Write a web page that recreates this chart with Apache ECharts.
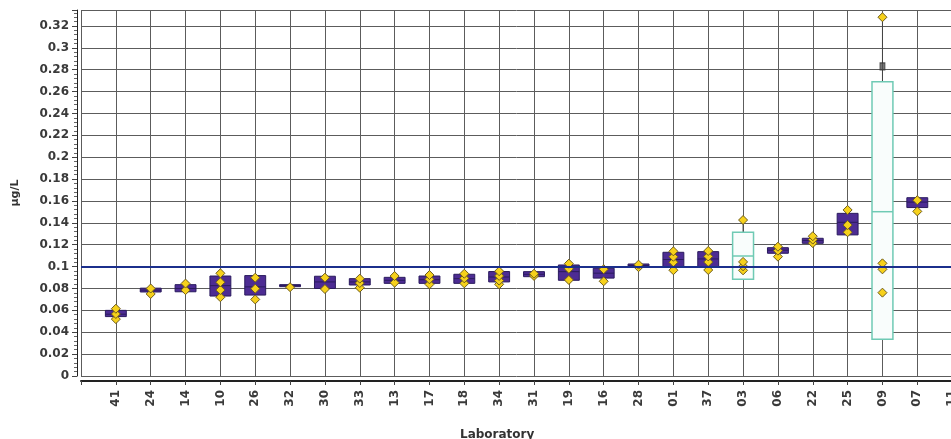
<!DOCTYPE html>
<html>
<head>
<meta charset="utf-8">
<script src="https://cdn.jsdelivr.net/npm/echarts@6/dist/echarts.min.js"></script>
<style>
  html, body { margin: 0; padding: 0; background: #fff; }
  #chart { width: 951px; height: 439px; }
</style>
</head>
<body>
<div id="chart"></div>
<script>
// laboratory codes in plotting order (x = 1..25)
const labs = ['41', '24', '14', '10', '26', '32', '30', '33', '13', '17', '18', '34', '31',
  '19', '16', '28', '01', '37', '03', '06', '22', '25', '09', '07', '11']

// boxes: lower quartile / median / upper quartile
const boxLow = [0.0543, 0.0768, 0.0770, 0.0731, 0.0740, 0.0822, 0.0800, 0.0832, 0.0847, 0.0847, 0.0847, 0.0860, 0.0908,
  0.0875, 0.0895, 0.0994, 0.0998, 0.1000, 0.0884, 0.1122, 0.1213, 0.1290, 0.0335, 0.1540, null]
const boxMid = [0.0565, 0.0785, 0.0800, 0.0826, 0.0815, 0.0828, 0.0860, 0.0860, 0.0875, 0.0880, 0.0890, 0.0905, 0.0930,
  0.0954, 0.0940, 0.1010, 0.1065, 0.1070, 0.1097, 0.1150, 0.1238, 0.1405, 0.1502, 0.1590, null]
const boxHigh = [0.0600, 0.0803, 0.0835, 0.0914, 0.0918, 0.0835, 0.0912, 0.0890, 0.0902, 0.0914, 0.0930, 0.0955, 0.0954,
  0.1015, 0.0985, 0.1024, 0.1131, 0.1137, 0.1314, 0.1173, 0.1259, 0.1487, 0.2691, 0.1630, null]
// 0 = filled box, 1 = open box
const boxKind = [0, 0, 0, 0, 0, 0, 0, 0, 0, 0, 0, 0, 0, 0, 0, 0, 0, 0, 1, 0, 0, 0, 1, 0, 0]
// upper whisker end (open boxes only)
const whiskerHigh = [null, null, null, null, null, null, null, null, null, null, null, null, null,
  null, null, null, null, null, 0.1426, null, null, null, 0.328, null, null]

// individual results of each laboratory
const results = [
  [0.0520, 0.0567, 0.0615],
  [0.0750, 0.0800],
  [0.0785, 0.0845],
  [0.0720, 0.0786, 0.0857, 0.0939],
  [0.0700, 0.0798, 0.0899],
  [0.0812],
  [0.0795, 0.0899],
  [0.0807, 0.0850, 0.0890],
  [0.0853, 0.0914],
  [0.0838, 0.0884, 0.0923],
  [0.0847, 0.0893, 0.0935],
  [0.0838, 0.0872, 0.0915, 0.0958],
  [0.0915, 0.0935],
  [0.0878, 0.0980, 0.1027],
  [0.0866, 0.0976],
  [0.0995, 0.1018],
  [0.0967, 0.1040, 0.1090, 0.1140],
  [0.0969, 0.1042, 0.1093, 0.1143],
  [0.0966, 0.1003, 0.1043, 0.1426],
  [0.1091, 0.1146, 0.1182],
  [0.1215, 0.1247, 0.1278],
  [0.1314, 0.1380, 0.1518],
  [0.0762, 0.0975, 0.1030, 0.3280],
  [0.1505, 0.1607],
  []
]
// flagged value drawn as a dark mark on lab 09's whisker
const flagged = [['09', 0.283]]

const assignedValue = 0.1
const meanValue = 0.0957

const chart = echarts.init(document.getElementById('chart'))

const boxData = labs.map((lab, i) => [i + 1, boxLow[i], boxMid[i], boxHigh[i], boxKind[i], whiskerHigh[i]])
  .filter(d => d[1] !== null)

const pointData = []
results.forEach((vals, i) => vals.forEach(v => pointData.push([i + 1, v])))

const flaggedData = flagged.map(([lab, v]) => [labs.indexOf(lab) + 1, v])

const font = 'DejaVu Sans, Verdana, sans-serif'
const gridColor = '#5c5c5c'

const renderBox = (params, api) => {
  const x = api.value(0)
  const lo = api.coord([x, api.value(1)])
  const mid = api.coord([x, api.value(2)])
  const hi = api.coord([x, api.value(3)])
  const open = api.value(4) === 1
  const wh = api.value(5)
  const w = api.size([0.6, 0])[0]
  const children = []
  if (!isNaN(wh)) {
    const top = api.coord([x, wh])
    children.push({
      type: 'line',
      shape: { x1: hi[0], y1: hi[1], x2: top[0], y2: top[1] },
      style: { stroke: '#444', lineWidth: 1 }
    })
  }
  const h = Math.max(lo[1] - hi[1], 2)
  children.push({
    type: 'rect',
    shape: { x: hi[0] - w / 2, y: hi[1], width: w, height: h },
    style: open
      ? { fill: '#f9fdfc', stroke: '#6fcab4', lineWidth: 1.5 }
      : { fill: '#4d2c93', stroke: '#2a1b5e', lineWidth: 1 }
  })
  children.push({
    type: 'line',
    shape: { x1: mid[0] - w / 2, y1: mid[1], x2: mid[0] + w / 2, y2: mid[1] },
    style: { stroke: open ? '#6fcab4' : '#2a1b5e', lineWidth: open ? 1.5 : 1 }
  })
  return { type: 'group', children }
}

const option = {
  backgroundColor: '#fff',
  animation: false,
  title: {
    text: 'Laboratory',
    left: 455,
    top: 424,
    textStyle: { fontFamily: font, fontSize: 12, fontWeight: 'bold', color: '#333' }
  },
  grid: {
    left: 81,
    right: -36,
    top: 10,
    bottom: 63,
    outerBoundsMode: 'none'
  },
  xAxis: {
    type: 'value',
    min: 0,
    max: 26,
    interval: 1,
    offset: 5,
    axisLine: { show: true, onZero: false, lineStyle: { color: '#222', width: 2 } },
    axisTick: { show: true, length: 4, lineStyle: { color: '#444' } },
    axisLabel: {
      rotate: 90,
      margin: 9,
      fontFamily: font,
      fontSize: 12,
      fontWeight: 'bold',
      color: '#3a3a3a',
      formatter: v => labs[v - 1] || ''
    },
    splitLine: { show: true, lineStyle: { color: gridColor, width: 1 } }
  },
  yAxis: {
    type: 'value',
    min: 0,
    max: 0.3346,
    interval: 0.02,
    offset: 4,
    name: 'µg/L',
    nameLocation: 'middle',
    nameRotate: 90,
    nameGap: 56,
    nameTextStyle: { fontFamily: font, fontSize: 11, fontWeight: 'bold', color: '#333' },
    axisLine: { show: true, onZero: false, lineStyle: { color: '#222', width: 1 } },
    axisTick: { show: true, length: 5, lineStyle: { color: '#444' } },
    minorTick: { show: true, splitNumber: 5, length: 3, lineStyle: { color: '#666' } },
    axisLabel: {
      margin: 8,
      fontFamily: font,
      fontSize: 12,
      fontWeight: 'bold',
      color: '#3a3a3a',
      formatter: v => {
        const k = v / 0.02
        return Math.abs(k - Math.round(k)) < 1e-6 ? String(+v.toFixed(2)) : ''
      }
    },
    splitLine: { show: true, lineStyle: { color: gridColor, width: 1 } }
  },
  series: [
    {
      type: 'line',
      data: [],
      z: 1,
      markLine: {
        silent: true,
        symbol: 'none',
        label: { show: false },
        data: [
          { yAxis: assignedValue, lineStyle: { color: '#5fc6ad', width: 1.5, type: 'solid' } },
          { yAxis: meanValue, lineStyle: { color: '#1b2f8c', width: 2, type: 'solid' } }
        ]
      }
    },
    {
      type: 'custom',
      z: 2,
      renderItem: renderBox,
      encode: { x: 0, y: [1, 2, 3] },
      data: boxData
    },
    {
      type: 'scatter',
      z: 3,
      symbol: 'rect',
      symbolSize: [5, 7],
      itemStyle: { color: '#555', borderColor: '#333', borderWidth: 1 },
      data: flaggedData
    },
    {
      type: 'scatter',
      z: 4,
      symbol: 'diamond',
      symbolSize: [9, 9],
      itemStyle: { color: '#f6d11b', borderColor: '#6e5c1c', borderWidth: 1, opacity: 1 },
      data: pointData
    }
  ]
}

chart.setOption(option)
</script>
</body>
</html>
